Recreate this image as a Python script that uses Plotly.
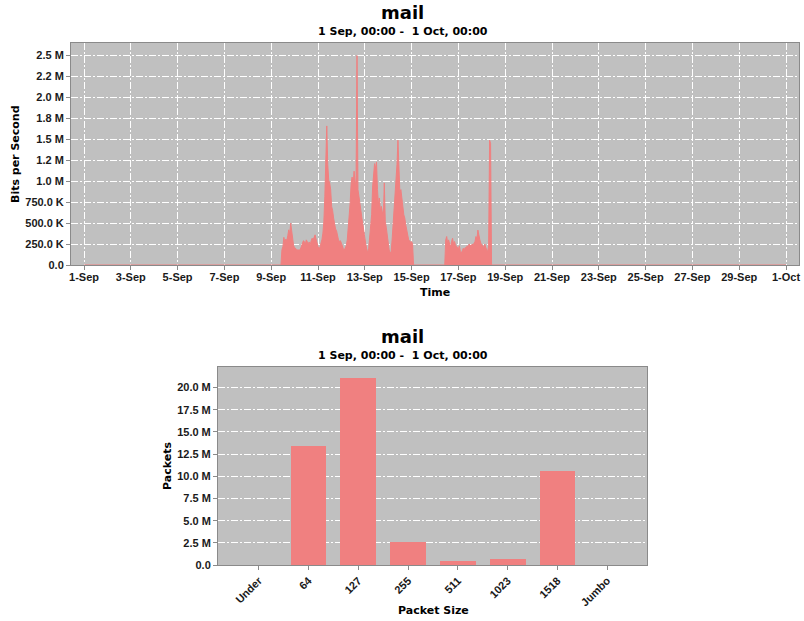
import pandas as pd
import plotly.graph_objects as go

# ---- Throughput: hourly average in kbit/s, 9-Sep 00:00 .. 18-Sep 23:00 ----
sep09 = [0, 0, 0, 0, 0, 0, 0, 0, 0, 0, 0, 180, 220, 330, 260, 310, 290, 350, 420, 370, 500, 410, 300, 230]
sep10 = [210, 190, 185, 180, 175, 178, 190, 230, 270, 290, 280, 250, 300, 270, 255, 275, 240, 290, 320, 300, 345, 360, 310, 250]
sep11 = [220, 200, 210, 260, 300, 380, 520, 820, 1150, 1660, 1200, 1010, 980, 900, 700, 650, 560, 470, 430, 410, 330, 300, 280, 290]
sep12 = [260, 220, 195, 180, 210, 230, 300, 420, 600, 740, 980, 1050, 960, 1120, 1000, 950, 2500, 900, 820, 700, 650, 560, 470, 380]
sep13 = [300, 250, 190, 145, 200, 350, 460, 600, 930, 1100, 1210, 1150, 1230, 900, 720, 800, 650, 700, 600, 560, 980, 520, 450, 330]
sep14 = [260, 180, 145, 160, 300, 460, 700, 900, 1050, 1200, 1490, 1000, 860, 900, 760, 700, 600, 560, 480, 400, 330, 300, 290, 270]
sep15 = [280, 250, 0, 0, 0, 0, 0, 0, 0, 0, 0, 0, 0, 0, 0, 0, 0, 0, 0, 0, 0, 0, 0, 0]
sep16 = [0, 0, 0, 0, 0, 0, 0, 0, 0, 0, 0, 300, 340, 260, 300, 250, 220, 280, 320, 250, 280, 240, 220, 210]
sep17 = [200, 230, 160, 146, 170, 200, 180, 210, 200, 230, 210, 250, 240, 220, 250, 240, 260, 280, 340, 310, 417, 330, 300, 260]
sep18 = [240, 230, 210, 250, 200, 180, 160, 230, 1490, 1450, 0, 0, 0, 0, 0, 0, 0, 0, 0, 0, 0, 0, 0, 0]

hourly_kbps = sep09 + sep10 + sep11 + sep12 + sep13 + sep14 + sep15 + sep16 + sep17 + sep18
hours = pd.date_range("2013-09-09 00:00", periods=len(hourly_kbps), freq="h")

times = [pd.Timestamp("2013-09-01 00:00")] + list(hours) + [pd.Timestamp("2013-10-01 00:00")]
bps = [0] + [v * 1000 for v in hourly_kbps] + [0]

time_tick_days = ["2013-09-%02d" % d for d in range(1, 30, 2)] + ["2013-10-01"]
time_tick_labels = ["%d-Sep" % d for d in range(1, 30, 2)] + ["1-Oct"]

bps_ticks = [0, 250e3, 500e3, 750e3, 1.0e6, 1.25e6, 1.5e6, 1.75e6, 2.0e6, 2.25e6, 2.5e6]
bps_labels = ["0.0", "250.0 K", "500.0 K", "750.0 K", "1.0 M", "1.2 M", "1.5 M",
              "1.8 M", "2.0 M", "2.2 M", "2.5 M"]

# ---- Packet size distribution ----
size_bins = ["Under", "64", "127", "255", "511", "1023", "1518", "Jumbo"]
packets = [0, 13.45e6, 21.15e6, 2.63e6, 0.45e6, 0.68e6, 10.6e6, 0]

pkt_ticks = [0, 2.5e6, 5e6, 7.5e6, 10e6, 12.5e6, 15e6, 17.5e6, 20e6]
pkt_labels = ["0.0", "2.5 M", "5.0 M", "7.5 M", "10.0 M", "12.5 M", "15.0 M", "17.5 M", "20.0 M"]

W, H = 804, 621
TITLE_FONT = "DejaVu Sans, Verdana, sans-serif"
TICK_FONT = "Liberation Sans, Arial, sans-serif"
FILL = "#f08080"
PLOT_BG = "#c0c0c0"
DASH = "7px,2px,2px,2px"


def px(x):
    return x / W


def py(y):
    return 1 - y / H


fig = go.Figure()

fig.add_trace(go.Scatter(
    x=times, y=bps, mode="lines", fill="tozeroy",
    line=dict(color=FILL, width=1), fillcolor=FILL,
    xaxis="x", yaxis="y", showlegend=False, hoverinfo="x+y",
))

fig.add_trace(go.Bar(
    x=list(range(len(size_bins))), y=packets, marker=dict(color=FILL, line=dict(width=0)),
    width=0.72, xaxis="x2", yaxis="y2", showlegend=False,
))

tickfont = dict(family=TICK_FONT, size=11, color="#1a1a1a", weight="bold")
axis_common = dict(
    showline=True, mirror=True, linecolor="#8a8a8a", linewidth=1,
    ticks="outside", ticklen=4, tickcolor="#8a8a8a", tickfont=tickfont,
    zeroline=False, fixedrange=True, automargin=False,
)

fig.update_layout(
    width=W, height=H, autosize=False,
    margin=dict(l=0, r=0, t=0, b=0, pad=0),
    paper_bgcolor="white", plot_bgcolor=PLOT_BG,
    font=dict(family=TITLE_FONT),
    bargap=0,
    xaxis=dict(
        domain=[px(71), px(799)], anchor="y",
        type="date", range=["2013-08-31 10:40", "2013-10-01 13:20"],
        tickmode="array", tickvals=time_tick_days, ticktext=time_tick_labels,
        ticklabelstandoff=-2,
        showgrid=True, gridcolor="white", gridwidth=1, griddash=DASH,
        **axis_common,
    ),
    yaxis=dict(
        domain=[py(265), py(43)], anchor="x",
        range=[0, 2.65e6],
        tickmode="array", tickvals=bps_ticks, ticktext=bps_labels,
        showgrid=True, gridcolor="white", gridwidth=1, griddash=DASH,
        **axis_common,
    ),
    xaxis2=dict(
        domain=[px(218), px(647)], anchor="y2",
        range=[-0.82, 7.8],
        tickmode="array", tickvals=list(range(len(size_bins))), ticktext=size_bins,
        tickangle=-45, showgrid=False,
        **axis_common,
    ),
    yaxis2=dict(
        domain=[py(565), py(366.7)], anchor="x2",
        range=[0, 22.36e6],
        tickmode="array", tickvals=pkt_ticks, ticktext=pkt_labels,
        showgrid=True, gridcolor="white", gridwidth=1, griddash=DASH,
        **axis_common,
    ),
)


def label(text, x, y, size, angle=0):
    fig.add_annotation(
        text=text, x=px(x), y=py(y), xref="paper", yref="paper",
        xanchor="center", yanchor="middle", showarrow=False, textangle=angle,
        font=dict(family=TITLE_FONT, size=size, color="black", weight="bold"),
    )


period = "1 Sep, 00:00 -  1 Oct, 00:00"

label("mail", 402, 13, 18)
label(period, 403, 31, 11)
label("Time", 435, 292, 11)
label("Bits per Second", 15, 154, 11, -90)

label("mail", 402, 336, 18)
label(period, 403, 355, 11)
label("Packet Size", 433, 610, 11)
label("Packets", 167, 466, 11, -90)

fig.write_html("out.html")
